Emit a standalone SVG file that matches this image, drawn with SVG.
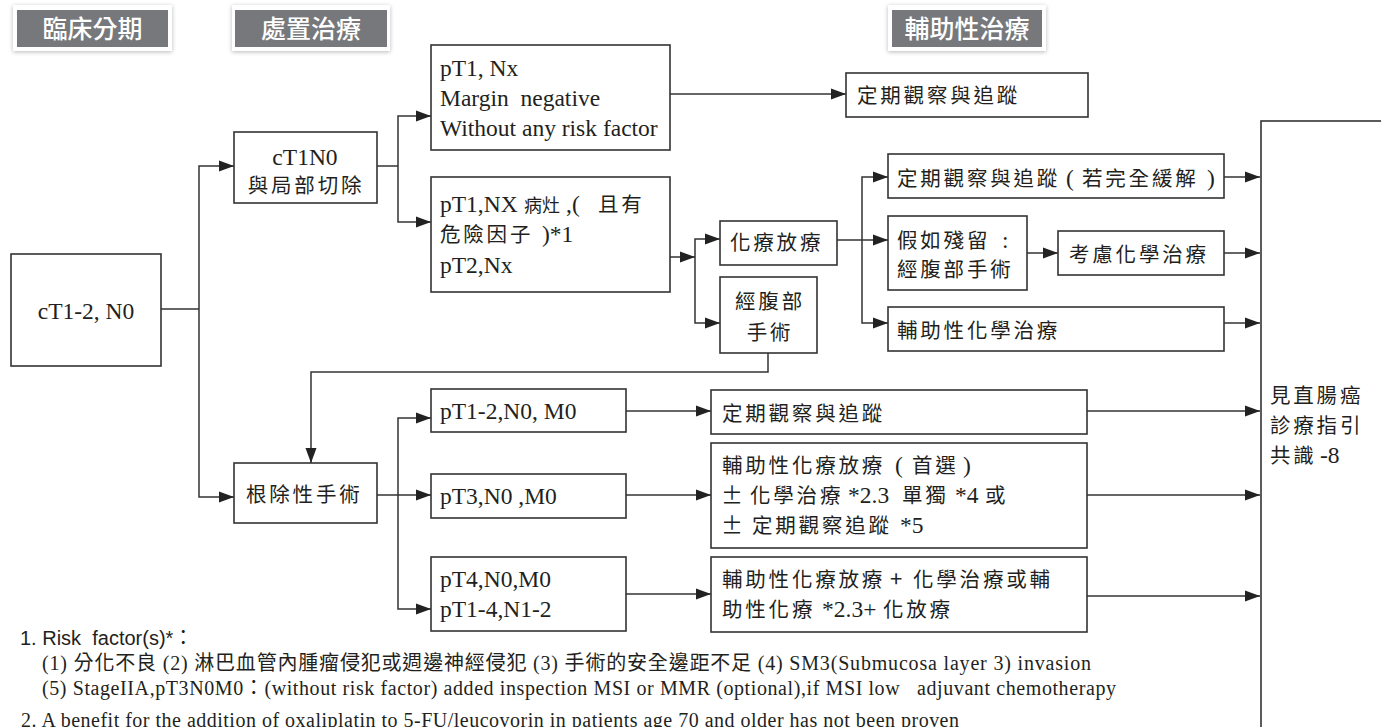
<svg xmlns="http://www.w3.org/2000/svg" width="1381" height="727" viewBox="0 0 1381 727">
<defs>
<style>
.box{fill:#fff;stroke:#333;stroke-width:1.6}
.ln{fill:none;stroke:#333;stroke-width:1.5}
.ar{marker-end:url(#ah)}
.l{font-family:"Liberation Serif","Noto Sans CJK TC",serif;font-size:23.5px;fill:#231f20}
.c{font-family:"Noto Sans CJK TC","Liberation Serif",sans-serif;font-size:20.5px;letter-spacing:2.8px;fill:#231f20}
.hd{font-family:"Noto Sans CJK TC",sans-serif;font-size:25px;font-weight:500;fill:#fff;text-anchor:middle}
.fs{font-family:"Liberation Sans","Noto Sans CJK TC",sans-serif;font-size:20px;fill:#231f20}
.fn{font-family:"Liberation Serif","Noto Sans CJK TC",serif;font-size:20px;fill:#231f20}
.m{text-anchor:middle}
</style>
<marker id="ah" markerUnits="userSpaceOnUse" markerWidth="16" markerHeight="12" refX="15" refY="6" orient="auto"><path d="M0,0.5 L15,6 L0,11.5 Z" fill="#222"/></marker>
<filter id="sh" x="-10%" y="-30%" width="120%" height="160%"><feDropShadow dx="0" dy="1" stdDeviation="2" flood-color="#000" flood-opacity="0.28"/></filter>
</defs>
<rect width="1381" height="727" fill="#fff"/>

<g id="hdr1"><rect x="13" y="5" width="159" height="46" fill="#fff" filter="url(#sh)"/><rect x="17" y="10" width="151" height="37" fill="#77787b"/><text class="hd" x="92.5" y="38">臨床分期</text></g>
<g id="hdr2"><rect x="232" y="5" width="158" height="46" fill="#fff" filter="url(#sh)"/><rect x="235" y="10" width="152" height="37" fill="#77787b"/><text class="hd" x="311" y="38">處置治療</text></g>
<g id="hdr3"><rect x="888" y="5" width="158" height="46" fill="#fff" filter="url(#sh)"/><rect x="892" y="10" width="150" height="37" fill="#77787b"/><text class="hd" x="967" y="38">輔助性治療</text></g>

<g id="connectors">
<path class="ln" d="M161,309 H199"/>
<path class="ln ar" d="M199,309 V166 H234"/>
<path class="ln ar" d="M199,309 V497 H234"/>
<path class="ln" d="M377,166 H398"/>
<path class="ln ar" d="M398,166 V116 H431"/>
<path class="ln ar" d="M398,166 V222 H431"/>
<path class="ln ar" d="M670,94 H846"/>
<path class="ln ar" d="M670,257 H695"/>
<path class="ln ar" d="M695,257 V239 H720"/>
<path class="ln ar" d="M695,257 V323 H720"/>
<path class="ln" d="M837,240 H862"/>
<path class="ln ar" d="M862,240 V177 H888"/>
<path class="ln ar" d="M862,240 H888"/>
<path class="ln ar" d="M862,240 V323 H888"/>
<path class="ln ar" d="M1027,253 H1058"/>
<path class="ln ar" d="M1224,177 H1260"/>
<path class="ln ar" d="M1224,253 H1260"/>
<path class="ln ar" d="M1224,323 H1260"/>
<path class="ln ar" d="M768,353 V372 H311 V463"/>
<path class="ln" d="M377,495 H398"/>
<path class="ln ar" d="M398,495 V418 H431"/>
<path class="ln ar" d="M398,495 H431"/>
<path class="ln ar" d="M398,495 V609 H431"/>
<path class="ln ar" d="M626,411 H711"/>
<path class="ln ar" d="M626,495 H711"/>
<path class="ln ar" d="M626,594 H711"/>
<path class="ln ar" d="M1087,411 H1260"/>
<path class="ln ar" d="M1087,495 H1260"/>
<path class="ln ar" d="M1087,596 H1260"/>
</g>

<g id="n-ct12"><rect class="box" x="11" y="254" width="150" height="112"/><text class="l m" x="86" y="319">cT1-2, N0</text></g>
<g id="n-ct1n0"><rect class="box" x="234" y="132" width="143" height="71"/><text class="l m" x="305" y="165">cT1N0</text><text class="c m" x="306" y="193">與局部切除</text></g>
<g id="n-pt1nx"><rect class="box" x="431" y="45" width="239" height="105"/><text class="l" x="440" y="76">pT1, Nx</text><text class="l" x="440" y="106">Margin&#160; negative</text><text class="l" x="440" y="136">Without any risk factor</text></g>
<g id="n-pt1risk"><rect class="box" x="431" y="177" width="239" height="115"/>
<text class="l" x="440" y="212">pT1,NX</text><text class="c" x="524" y="212" style="font-size:18px;letter-spacing:0">病灶</text><text class="l" x="566" y="212">,(</text><text class="c" x="598" y="212">且有</text>
<text class="c" x="440" y="242">危險因子</text><text class="l" x="542" y="242">)*1</text>
<text class="l" x="440" y="273">pT2,Nx</text></g>
<g id="n-obs1"><rect class="box" x="846" y="73" width="242" height="44"/><text class="c" x="857" y="103">定期觀察與追蹤</text></g>
<g id="n-crt"><rect class="box" x="720" y="221" width="117" height="44"/><text class="c" x="730" y="250">化療放療</text></g>
<g id="n-tas"><rect class="box" x="720" y="277" width="97" height="76"/><text class="c m" x="770" y="309">經腹部</text><text class="c m" x="770" y="340">手術</text></g>
<g id="n-obs2"><rect class="box" x="888" y="154" width="336" height="44"/><text class="c" x="897" y="186">定期觀察與追蹤</text><text class="l" x="1066" y="186">(</text><text class="c" x="1082" y="186">若完全緩解</text><text class="l" x="1207" y="186">)</text></g>
<g id="n-resid"><rect class="box" x="888" y="216" width="139" height="74"/><text class="c" x="897" y="248">假如殘留</text><text class="l" x="1002" y="248">:</text><text class="c" x="897" y="277">經腹部手術</text></g>
<g id="n-chemo1"><rect class="box" x="1058" y="231" width="166" height="44"/><text class="c" x="1069" y="262">考慮化學治療</text></g>
<g id="n-adjchemo"><rect class="box" x="888" y="307" width="336" height="44"/><text class="c" x="897" y="338">輔助性化學治療</text></g>
<g id="n-radical"><rect class="box" x="234" y="463" width="143" height="60"/><text class="c" x="246" y="502">根除性手術</text></g>
<g id="n-pt12"><rect class="box" x="431" y="389" width="195" height="43"/><text class="l" x="440" y="419">pT1-2,N0, M0</text></g>
<g id="n-pt3"><rect class="box" x="431" y="474" width="195" height="44"/><text class="l" x="440" y="504">pT3,N0 ,M0</text></g>
<g id="n-pt4"><rect class="box" x="431" y="557" width="195" height="74"/><text class="l" x="440" y="587">pT4,N0,M0</text><text class="l" x="440" y="617">pT1-4,N1-2</text></g>
<g id="n-obs3"><rect class="box" x="711" y="390" width="376" height="44"/><text class="c" x="722" y="421">定期觀察與追蹤</text></g>
<g id="n-adj1"><rect class="box" x="711" y="443" width="376" height="105"/>
<text class="c" x="722" y="473">輔助性化療放療</text><text class="l" x="895" y="473">(</text><text class="c" x="912" y="473">首選</text><text class="l" x="963" y="473">)</text>
<text class="c" x="721" y="503" style="font-size:22px">±</text><text class="c" x="750" y="503">化學治療</text><text class="l" x="848" y="503">*2.3</text><text class="c" x="902" y="503">單獨</text><text class="l" x="955" y="503">*4</text><text class="c" x="985" y="503">或</text>
<text class="c" x="721" y="533" style="font-size:22px">±</text><text class="c" x="752" y="533">定期觀察追蹤</text><text class="l" x="900" y="533">*5</text></g>
<g id="n-adj2"><rect class="box" x="711" y="557" width="376" height="75"/>
<text class="c" x="722" y="587">輔助性化療放療</text><text class="c" x="890" y="587" style="font-size:22px">+</text><text class="c" x="913" y="587">化學治療或輔</text>
<text class="c" x="722" y="617">助性化療</text><text class="l" x="822" y="617">*2.3+</text><text class="c" x="883" y="617">化放療</text></g>
<g id="n-guide"><rect class="box" x="1261" y="121" width="200" height="700"/><text class="c" x="1270" y="403">見直腸癌</text><text class="c" x="1270" y="433">診療指引</text><text class="c" x="1270" y="463">共識</text><text class="l" x="1320" y="463">-8</text></g>

<g id="notes">
<text class="fs" x="20" y="645">1. Risk&#160; factor(s)*：</text>
<text class="fn" x="42" y="670" textLength="1049" lengthAdjust="spacing">(1) 分化不良 (2) 淋巴血管內腫瘤侵犯或週邊神經侵犯 (3) 手術的安全邊距不足 (4) SM3(Submucosa layer 3) invasion</text>
<text class="fn" x="42" y="695" textLength="1074" lengthAdjust="spacing">(5) StageIIA,pT3N0M0：(without risk factor) added inspection MSI or MMR (optional),if MSI low&#160;&#160; adjuvant chemotherapy</text>
<text class="fn" x="21" y="727" textLength="938" lengthAdjust="spacing">2. A benefit for the addition of oxaliplatin to 5-FU/leucovorin in patients age 70 and older has not been proven</text>
</g>
</svg>
